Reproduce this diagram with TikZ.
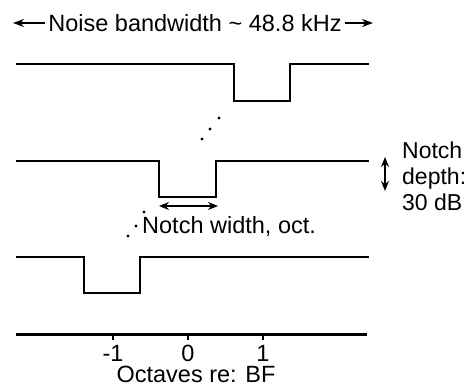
\documentclass[tikz,border=0pt]{standalone}
\usepackage{fontspec}
\setmainfont{Liberation Sans}
\usetikzlibrary{arrows.meta, positioning}
\tikzset{
  trace/.style={line width=2pt, line join=miter},
  axisline/.style={line width=3pt},
  tick/.style={line width=1.2pt},
  lbl/.style={inner sep=0pt, font=\fontsize{23.5}{26}\selectfont},
  arr/.style={-{Stealth[length=11pt, width=8pt]}, line width=2.6pt},
  dblArr/.style={{Stealth[length=10pt, width=8pt]}-{Stealth[length=10pt, width=8pt]}, line width=2.4pt},
  dot/.style={fill=black},
}

\begin{document}
\begin{tikzpicture}[x=1pt, y=1pt]
\useasboundingbox (0,0) rectangle (466,387);

% title with bandwidth arrows
\node[lbl, anchor=base] (bw) at (195,355) {Noise bandwidth \textasciitilde\ 48.8 kHz};
\coordinate (bwL) at (13,364);
\coordinate (bwR) at (373,364);
\draw[arr] ([xshift=-3pt]bw.west |- bwL) -- (bwL);
\draw[arr] ([xshift=3pt]bw.east |- bwR) -- (bwR);

% three noise spectra, notch at +1, 0, -1 oct.
\draw[trace] (16,323) -- (234,323) -- (234,286) -- (290,286) -- (290,323) -- (369,323);
\draw[trace] (16,226) -- (159,226) -- (159,190) -- (216,190) -- (216,226) -- (369,226);
\draw[trace] (16,130) -- (84,130) -- (84,94) -- (140,94) -- (140,130) -- (369,130);

% dots between spectra
\fill[dot] (219,269) circle (1.6pt);
\fill[dot] (210,258) circle (1.6pt);
\fill[dot] (202,248) circle (1.6pt);
\fill[dot] (144,175) circle (1.6pt);
\fill[dot] (136,161) circle (1.6pt);
\fill[dot] (128,151) circle (1.6pt);

% notch width
\coordinate (wL) at (159,181);
\coordinate (wR) at (218,181);
\draw[dblArr] (wL) -- (wR);
\node[lbl, anchor=base west] (nw) at (142,153) {Notch width, oct.};

% notch depth
\coordinate (dT) at (385,230);
\coordinate (dB) at (385,196);
\draw[dblArr, line width=2pt] (dT) -- (dB);
\node[lbl, anchor=north west, align=left, font=\fontsize{23}{26}\selectfont] (nd) at (402,245) {Notch\\depth:\\30 dB};

% frequency axis
\draw[axisline] (16,52) -- (367,52);
\foreach \x/\t in {113/-1, 188/0, 263/1} {
  \draw[tick] (\x,52) -- (\x,47);
  \node[lbl, anchor=base] at (\x,25) {\t};
}
\node[lbl, anchor=base] (oct) at (196,4) {Octaves re: BF};

\end{tikzpicture}
\end{document}
